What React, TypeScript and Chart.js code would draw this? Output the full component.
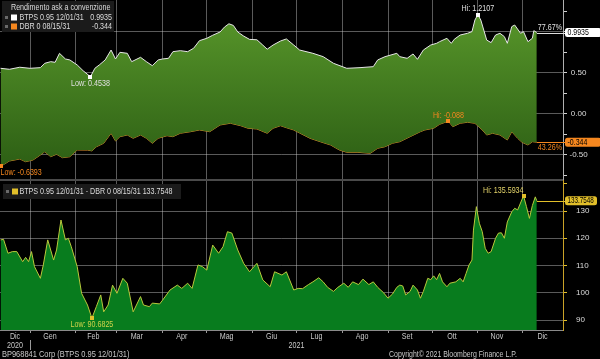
import React, { useEffect, useRef } from 'react';
import { Chart, registerables } from 'chart.js';
Chart.register(...registerables);

// x values are days since 1 Dec 2020
const btpName = 'BTPS 0.95 12/01/31';
const dbrName = 'DBR 0 08/15/31';
const spreadName = 'BTPS 0.95 12/01/31 - DBR 0 08/15/31';

const btpDays = [11, 17, 24, 31, 38, 41, 45, 48, 51, 55, 58, 63, 67, 72, 75, 78, 82, 86, 89, 92, 97, 100, 106, 110, 114, 118, 121, 125, 128, 133, 138, 142, 146, 151, 155, 160, 163, 166, 169, 172, 176, 180, 185, 189, 192, 196, 201, 205, 210, 214, 223, 230, 237, 246, 255, 264, 267, 272, 280, 282, 287, 291, 294, 298, 303, 307, 309, 314, 317, 319, 323, 328, 331, 333, 335, 337, 339, 341, 344, 347, 350, 353, 355, 358, 360, 364, 366, 369, 372, 373, 375];
const btpYield = [0.557, 0.545, 0.570, 0.557, 0.565, 0.618, 0.638, 0.630, 0.740, 0.671, 0.659, 0.598, 0.528, 0.4538, 0.557, 0.598, 0.659, 0.780, 0.671, 0.752, 0.740, 0.638, 0.691, 0.638, 0.589, 0.659, 0.671, 0.679, 0.760, 0.772, 0.760, 0.801, 0.894, 0.923, 0.960, 1.000, 1.060, 1.100, 1.080, 1.000, 0.950, 0.910, 0.905, 0.840, 0.790, 0.841, 0.890, 0.915, 0.841, 0.780, 0.740, 0.699, 0.618, 0.557, 0.565, 0.577, 0.659, 0.699, 0.740, 0.699, 0.679, 0.732, 0.667, 0.780, 0.841, 0.862, 0.882, 0.923, 0.862, 0.911, 0.963, 0.984, 1.004, 1.146, 1.2107, 1.146, 1.024, 0.902, 0.870, 0.963, 0.984, 0.943, 0.862, 1.065, 1.085, 0.984, 1.004, 0.882, 0.923, 1.016, 0.9935];

const dbrDays = [11, 17, 24, 28, 33, 38, 41, 45, 49, 53, 58, 63, 70, 73, 76, 81, 86, 89, 92, 97, 101, 106, 110, 114, 118, 124, 128, 133, 140, 146, 153, 160, 167, 174, 179, 185, 192, 196, 201, 205, 210, 214, 221, 228, 235, 241, 246, 253, 262, 267, 272, 277, 282, 289, 296, 299, 305, 309, 315, 318, 323, 328, 333, 338, 341, 345, 350, 355, 358, 362, 365, 369, 372, 375];
const dbrYield = [-0.6393, -0.573, -0.549, -0.582, -0.561, -0.500, -0.460, -0.521, -0.491, -0.533, -0.521, -0.439, -0.440, -0.450, -0.400, -0.357, -0.235, -0.329, -0.277, -0.256, -0.296, -0.256, -0.296, -0.357, -0.296, -0.265, -0.277, -0.235, -0.216, -0.195, -0.216, -0.134, -0.113, -0.143, -0.174, -0.183, -0.235, -0.174, -0.143, -0.167, -0.195, -0.232, -0.296, -0.338, -0.378, -0.439, -0.467, -0.467, -0.479, -0.418, -0.399, -0.357, -0.338, -0.277, -0.216, -0.195, -0.174, -0.126, -0.088, -0.155, -0.113, -0.101, -0.113, -0.195, -0.256, -0.235, -0.256, -0.317, -0.216, -0.296, -0.345, -0.378, -0.338, -0.344];

const spreadDays = [11, 13, 16, 19, 22, 26, 28, 30, 32, 34, 38, 40, 43, 47, 49, 52, 55, 57, 59, 63, 66, 70, 73, 76, 79, 81, 84, 87, 90, 94, 97, 101, 106, 108, 112, 114, 119, 121, 126, 131, 134, 138, 141, 145, 148, 151, 155, 159, 162, 165, 168, 172, 176, 180, 185, 189, 194, 197, 202, 205, 210, 213, 216, 220, 223, 227, 230, 233, 237, 240, 244, 247, 250, 254, 257, 261, 264, 267, 271, 274, 277, 280, 282, 284, 286, 289, 291, 294, 296, 298, 301, 303, 305, 307, 309, 311, 314, 316, 320, 323, 325, 327, 329, 331, 332, 334, 336, 338, 340, 342, 344, 347, 349, 351, 353, 355, 358, 360, 362, 366, 368, 370, 372, 374, 375];
const spreadBp = [119.4, 119.6, 114.5, 115.1, 115.1, 111.4, 113.0, 111.4, 115.1, 109.6, 105.3, 110.2, 119.4, 112.0, 115.7, 126.7, 119.4, 120.0, 116.9, 109.6, 99.8, 95.5, 90.6825, 94.9, 99.2, 93.0, 95.5, 102.8, 99.8, 105.3, 103.5, 93.0, 98.6, 95.5, 94.9, 96.2, 95.9, 97.3, 101.0, 102.8, 101.6, 103.5, 101.6, 110.2, 109.6, 108.3, 117.5, 114.5, 116.9, 122.4, 121.9, 115.7, 110.8, 107.7, 110.8, 104.7, 102.2, 107.7, 106.5, 107.7, 101.0, 101.6, 101.5, 103.0, 104.0, 105.5, 104.0, 102.0, 100.5, 102.0, 103.5, 102.0, 104.0, 103.0, 105.0, 103.0, 104.0, 102.0, 100.0, 98.0, 99.5, 102.0, 102.8, 102.5, 99.2, 100.5, 102.8, 101.0, 98.0, 100.5, 105.3, 104.8, 106.2, 104.8, 107.1, 104.0, 102.2, 103.5, 104.0, 105.3, 104.0, 107.1, 110.2, 112.0, 123.0, 131.6, 125.5, 122.4, 116.3, 114.5, 115.1, 120.0, 121.9, 122.0, 120.0, 126.0, 129.7, 131.0, 130.4, 135.5934, 131.6, 127.3, 132.0, 135.2, 133.7548];

const monthStarts = [0, 31, 62, 90, 121, 151, 182, 212, 243, 274, 304, 335, 365, 396];
const monthLabels = ['Dic', 'Gen', 'Feb', 'Mar', 'Apr', 'Mag', 'Giu', 'Lug', 'Ago', 'Set', 'Ott', 'Nov', 'Dic'];
const yearLabels = ['2020', '2021'];
const yearStarts = [0, 31, 396];
const topLabelled = [-0.5, 0, 0.5];
const btpPct = '77.67%';
const dbrPct = '43.26%';
const legendTitle = 'Rendimento ask a convenzione';
const footerLeft = 'BP968841 Corp (BTPS 0.95 12/01/31)';
const footerRight = 'Copyright\u00A9 2021 Bloomberg Finance L.P.';

const X_MIN = 10.6;
const X_MAX = 392.8;

const FONT = "'Liberation Sans', Arial, sans-serif";
const SX = 0.82; // horizontal condensing of the Bloomberg-like narrow font
const C_TEXT = '#dcdcdc';
const C_BTP = '#e6e6e6';
const C_DBR = '#d98a2a';
const C_ORANGE = '#f5871f';
const C_GOLD = '#e2bf2a';
const C_SPREAD = '#b9c83c';
const C_GREEN = '#087c1e';

function txt(ctx: CanvasRenderingContext2D, s: string, x: number, y: number, color: string, align: CanvasTextAlign = 'left', size = 8.7, sx = SX) {
  ctx.save();
  ctx.font = `${size}px ${FONT}`;
  ctx.fillStyle = color;
  ctx.textAlign = align;
  ctx.textBaseline = 'middle';
  ctx.translate(x, y);
  ctx.scale(sx, 1);
  ctx.fillText(s, 0, 0);
  ctx.restore();
}
function iMax(a: number[]) { let k = 0; a.forEach((v, i) => { if (v > a[k]) k = i; }); return k; }
function iMin(a: number[]) { let k = 0; a.forEach((v, i) => { if (v < a[k]) k = i; }); return k; }
const last = (a: number[]) => a[a.length - 1];

const bbgPlugin = {
  id: 'bbg',
  afterDraw(chart: any) {
    const ctx: CanvasRenderingContext2D = chart.ctx;
    const xs = chart.scales.x, y1 = chart.scales.y1, y2 = chart.scales.y2;
    const area = chart.chartArea;
    ctx.save();

    // panel divider
    ctx.strokeStyle = '#4a4a4a';
    ctx.lineWidth = 2;
    ctx.beginPath(); ctx.moveTo(0, y1.bottom); ctx.lineTo(area.right, y1.bottom); ctx.stroke();

    // legends
    ctx.fillStyle = '#1b1b1b';
    ctx.fillRect(2, 1, 112, 31);
    txt(ctx, legendTitle, 11, 7.5, C_TEXT);
    ctx.fillStyle = '#6a6a6a'; ctx.fillRect(5, 16, 3, 3); ctx.fillRect(5, 25, 3, 3);
    ctx.fillStyle = '#ffffff'; ctx.fillRect(11, 14.5, 6, 6);
    ctx.fillStyle = C_ORANGE; ctx.fillRect(11, 23.5, 6, 6);
    txt(ctx, btpName, 19.5, 17.5, C_TEXT);
    txt(ctx, String(last(btpYield)), 112, 17.5, C_TEXT, 'right');
    txt(ctx, dbrName, 19.5, 26.5, C_TEXT);
    txt(ctx, String(last(dbrYield)), 112, 26.5, C_TEXT, 'right');

    ctx.fillStyle = '#1b1b1b';
    ctx.fillRect(3, 184, 178, 15);
    ctx.fillStyle = '#6a6a6a'; ctx.fillRect(6, 190, 3, 3);
    ctx.fillStyle = C_GOLD; ctx.fillRect(12, 188.5, 6, 6);
    txt(ctx, spreadName + ' ' + String(last(spreadBp)), 19.5, 191.5, C_TEXT);

    // Hi / Low annotations
    const ann = (days: number[], vals: number[], ys: any, idx: number, color: string, textColor: string, kind: string, align: CanvasTextAlign, dy: number) => {
      const px = xs.getPixelForValue(days[idx]);
      const py = ys.getPixelForValue(vals[idx]);
      ctx.fillStyle = color;
      ctx.fillRect(Math.round(px) - 2, Math.round(py) - 2, 4, 4);
      txt(ctx, kind + ': ' + String(vals[idx]), px, py + dy, textColor, align);
    };
    ann(btpDays, btpYield, y1, iMax(btpYield), '#ffffff', '#e0e0e0', 'Hi', 'center', -6);
    ann(btpDays, btpYield, y1, iMin(btpYield), '#ffffff', '#e0e0e0', 'Low', 'center', 7);
    ann(dbrDays, dbrYield, y1, iMax(dbrYield), C_ORANGE, C_ORANGE, 'Hi', 'center', -6);
    ann(dbrDays, dbrYield, y1, iMin(dbrYield), C_ORANGE, C_ORANGE, 'Low', 'left', 6);
    ann(spreadDays, spreadBp, y2, iMax(spreadBp), C_GOLD, '#e4d46a', 'Hi', 'right', -5.5);
    ann(spreadDays, spreadBp, y2, iMin(spreadBp), C_GOLD, '#cfd34a', 'Low', 'center', 6.5);

    // last value tags
    const tag = (days: number[], vals: number[], ys: any, color: string, lineColor: string, w: number, tsx: number) => {
      const px = xs.getPixelForValue(last(days));
      const py = ys.getPixelForValue(last(vals));
      ctx.strokeStyle = lineColor; ctx.lineWidth = 1;
      ctx.beginPath(); ctx.moveTo(px, Math.round(py) + 0.5); ctx.lineTo(area.right + 2, Math.round(py) + 0.5); ctx.stroke();
      ctx.fillStyle = color;
      ctx.beginPath();
      (ctx as any).roundRect(area.right + 2, py - 4.5, w, 9, 2.5);
      ctx.fill();
      txt(ctx, String(last(vals)), area.right + 4.5, py + 0.3, '#000000', 'left', 8.5, tsx);
      return py;
    };
    const pb = tag(btpDays, btpYield, y1, '#ffffff', '#dddddd', 36, 0.82);
    const pd = tag(dbrDays, dbrYield, y1, C_ORANGE, C_ORANGE, 36, 0.82);
    tag(spreadDays, spreadBp, y2, C_GOLD, C_GOLD, 32, 0.74);
    txt(ctx, btpPct, area.right - 1, pb - 4.5, '#e0e0e0', 'right');
    txt(ctx, dbrPct, area.right - 1, pd + 5, C_ORANGE, 'right');

    // month labels
    for (let i = 0; i < monthLabels.length; i++) {
      const a = Math.max(monthStarts[i], X_MIN);
      const b = Math.min(monthStarts[i + 1], X_MAX);
      const full = monthStarts[i] >= X_MIN && monthStarts[i + 1] <= X_MAX;
      const cx = (xs.getPixelForValue(a) + xs.getPixelForValue(b)) / 2 - (full ? 3 : 0);
      txt(ctx, monthLabels[i], cx, 336.5, '#c8c8c8', 'center');
    }
    for (let i = 0; i < yearLabels.length; i++) {
      const a = Math.max(yearStarts[i], X_MIN);
      const b = Math.min(yearStarts[i + 1], X_MAX);
      const cx = (xs.getPixelForValue(a) + xs.getPixelForValue(b)) / 2;
      txt(ctx, yearLabels[i], cx, 345.5, '#c8c8c8', 'center');
    }
    const sx = Math.round(xs.getPixelForValue(yearStarts[1])) + 0.5;
    ctx.strokeStyle = '#9a9a9a'; ctx.lineWidth = 1;
    ctx.beginPath(); ctx.moveTo(sx, 340); ctx.lineTo(sx, 350); ctx.stroke();

    // footer
    txt(ctx, footerLeft, 2, 354.5, '#c8c8c8', 'left', 8.7, 0.86);
    txt(ctx, footerRight, 389, 354.5, '#c8c8c8', 'left', 8.7, 0.8);

    ctx.restore();
  },
};

const isOn = (v: number, list: number[]) => list.some((t) => Math.abs(t - v) < 1e-6);

export default function App() {
  const ref = useRef<HTMLCanvasElement>(null);
  useEffect(() => {
    document.body.style.margin = '0';
    document.body.style.background = '#000';
    const canvas = ref.current!;
    const fitY = (w: number) => (scale: any) => {
      scale.width = w;
      scale.paddingTop = 0; scale.paddingBottom = 0; scale.paddingLeft = 0; scale.paddingRight = 0;
    };
    const chart = new Chart(canvas, {
      type: 'line',
      data: {
        datasets: [
          {
            label: btpName,
            data: btpDays.map((d, i) => ({ x: d, y: btpYield[i] })),
            yAxisID: 'y1',
            borderColor: C_BTP,
            borderWidth: 1,
            pointRadius: 0,
            tension: 0,
            fill: '+1',
            backgroundColor: (c: any) => {
              const g = c.chart.ctx.createLinearGradient(0, 15, 0, 170);
              g.addColorStop(0, '#57952a');
              g.addColorStop(1, '#2c5e14');
              return g;
            },
          },
          {
            label: dbrName,
            data: dbrDays.map((d, i) => ({ x: d, y: dbrYield[i] })),
            yAxisID: 'y1',
            borderColor: C_DBR,
            borderWidth: 1,
            pointRadius: 0,
            tension: 0,
            fill: false,
          },
          {
            label: spreadName,
            data: spreadDays.map((d, i) => ({ x: d, y: spreadBp[i] })),
            yAxisID: 'y2',
            borderColor: C_SPREAD,
            borderWidth: 1,
            pointRadius: 0,
            tension: 0,
            fill: 'start',
            backgroundColor: C_GREEN,
          },
        ],
      },
      options: {
        responsive: false,
        animation: false,
        events: [],
        layout: { padding: 0 },
        plugins: { legend: { display: false }, tooltip: { enabled: false } },
        scales: {
          x: {
            type: 'linear',
            position: 'bottom',
            min: X_MIN,
            max: X_MAX,
            z: 1,
            afterBuildTicks: (scale: any) => {
              scale.ticks = monthStarts.filter((d) => d > X_MIN && d < X_MAX).map((v) => ({ value: v }));
            },
            afterFit: (scale: any) => {
              scale.height = 29;
              scale.paddingLeft = 0; scale.paddingRight = 0; scale.paddingTop = 0; scale.paddingBottom = 0;
            },
            ticks: { display: false },
            grid: {
              color: 'rgba(200,200,200,0.45)',
              borderDash: [1, 2],
              lineWidth: 1,
              drawTicks: true,
              tickLength: 3,
              tickColor: '#9a9a9a',
              tickBorderDash: [],
            },
            border: { color: '#8a8a8a', width: 1 },
          },
          y1: {
            type: 'linear',
            position: 'right',
            stack: 'panels',
            stackWeight: 180,
            min: -0.805,
            max: 1.39,
            z: 1,
            afterFit: fitY(37),
            ticks: {
              stepSize: 0.25,
              includeBounds: false,
              autoSkip: false,
              color: C_TEXT,
              font: { family: FONT, size: 8 },
              padding: 2.5,
              crossAlign: 'center',
              callback: (v: any) => (isOn(Number(v), topLabelled) ? Number(v).toFixed(2) : ''),
            },
            grid: {
              color: (c: any) => (c.tick && isOn(c.tick.value, [-0.5, 0, 0.5, 1]) ? 'rgba(200,200,200,0.45)' : 'rgba(0,0,0,0)'),
              borderDash: [1, 2],
              drawTicks: true,
              tickLength: 4,
              tickColor: '#d0d0d0',
              tickBorderDash: [],
            },
            border: { color: '#b0b0b0', width: 1 },
          },
          y2: {
            type: 'linear',
            position: 'right',
            stack: 'panels',
            stackWeight: 150,
            min: 86.33,
            max: 141.38,
            z: 1,
            afterFit: fitY(37),
            ticks: {
              stepSize: 10,
              includeBounds: false,
              autoSkip: false,
              color: C_TEXT,
              font: { family: FONT, size: 8 },
              padding: 9,
              crossAlign: 'near',
              callback: (v: any) => (Number(v) >= 140 ? '' : String(v)),
            },
            grid: {
              color: (c: any) => (c.tick && c.tick.value < 140 ? 'rgba(200,200,200,0.45)' : 'rgba(0,0,0,0)'),
              borderDash: [1, 2],
              drawTicks: true,
              tickLength: 4,
              tickColor: C_GOLD,
              tickBorderDash: [],
            },
            border: { color: '#c9a227', width: 1 },
          },
        },
      },
      plugins: [bbgPlugin],
    } as any);
    return () => chart.destroy();
  }, []);
  return (
    <div style={{ position: 'fixed', left: 0, top: 0, width: 600, height: 359, background: '#000' }}>
      <canvas ref={ref} width={600} height={359} style={{ display: 'block' }} />
    </div>
  );
}
